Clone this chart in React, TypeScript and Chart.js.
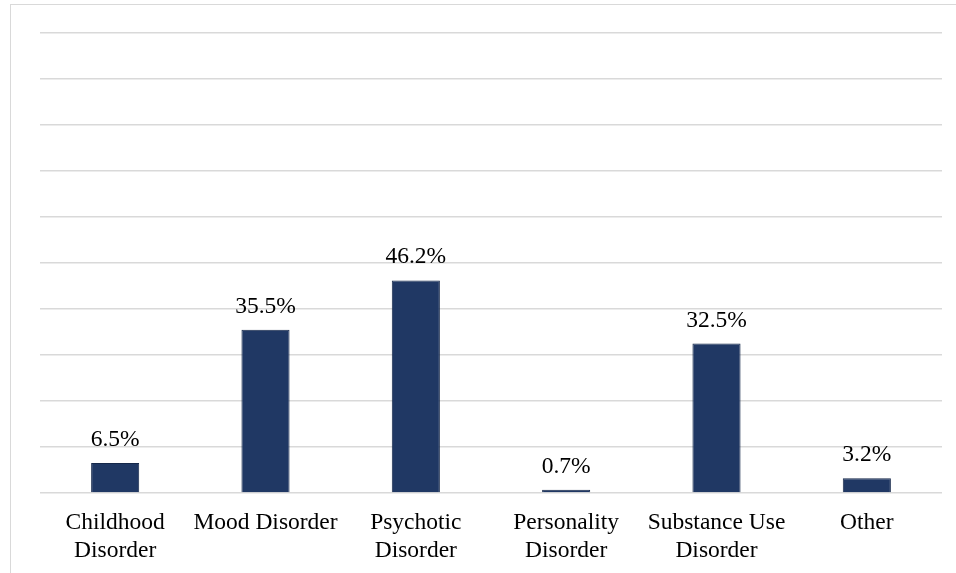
import React, { useEffect, useRef } from "react";
import { Chart, registerables } from "chart.js";

Chart.register(...registerables);

const categories: (string | string[])[] = [
  ["Childhood", "Disorder"],
  "Mood Disorder",
  ["Psychotic", "Disorder"],
  ["Personality", "Disorder"],
  ["Substance Use", "Disorder"],
  "Other",
];
const percentages = [6.5, 35.5, 46.2, 0.7, 32.5, 3.2];
const yMin = 0;
const yMax = 100;
const yStep = 10;

const FONT = "'Liberation Serif', 'Times New Roman', serif";

const valueLabels = {
  id: "valueLabels",
  afterDatasetsDraw(chart: any) {
    const ctx = chart.ctx;
    const meta = chart.getDatasetMeta(0);
    ctx.save();
    ctx.font = `23.5px ${FONT}`;
    ctx.fillStyle = "#000000";
    ctx.textAlign = "center";
    ctx.textBaseline = "alphabetic";
    meta.data.forEach((bar: any, i: number) => {
      const v = chart.data.datasets[0].data[i] as number;
      ctx.fillText(`${v.toFixed(1)}%`, bar.x, bar.y - 17);
    });
    ctx.restore();
  },
};

export default function App() {
  const ref = useRef<HTMLCanvasElement | null>(null);

  useEffect(() => {
    if (!ref.current) return;
    const chart = new Chart(ref.current, {
      type: "bar",
      data: {
        labels: categories,
        datasets: [
          {
            data: percentages,
            backgroundColor: "#203864",
            borderColor: "#16284a",
            borderWidth: 1,
            categoryPercentage: 0.8,
            barPercentage: 0.4,
          },
        ],
      },
      options: {
        animation: false,
        responsive: false,
        maintainAspectRatio: false,
        layout: { padding: { left: 40, right: 14, top: 33, bottom: 0 } },
        plugins: {
          legend: { display: false },
          tooltip: { enabled: false },
          title: { display: false },
        },
        scales: {
          x: {
            grid: { display: false },
            border: { display: false },
            ticks: {
              color: "#000000",
              font: { family: FONT, size: 23.5, lineHeight: 1.2 },
              padding: 8,
              maxRotation: 0,
              autoSkip: false,
            },
            afterFit(axis: any) {
              axis.height = 80;
            },
          },
          y: {
            min: yMin,
            max: yMax,
            ticks: { display: false, stepSize: yStep },
            grid: { color: "#d9d9d9", lineWidth: 1.5, drawTicks: false },
            border: { display: false },
          },
        },
      },
      plugins: [valueLabels],
    });
    return () => chart.destroy();
  }, []);

  return (
    <div style={{ position: "fixed", left: 0, top: 0, width: 956, height: 573, background: "#fff", overflow: "hidden" }}>
      <div
        style={{
          position: "absolute",
          left: 10,
          top: 4,
          width: 1000,
          height: 700,
          border: "1.5px solid #d9d9d9",
          boxSizing: "border-box",
        }}
      />
      <canvas ref={ref} width={956} height={573} style={{ position: "absolute", left: 0, top: 0 }} />
    </div>
  );
}
